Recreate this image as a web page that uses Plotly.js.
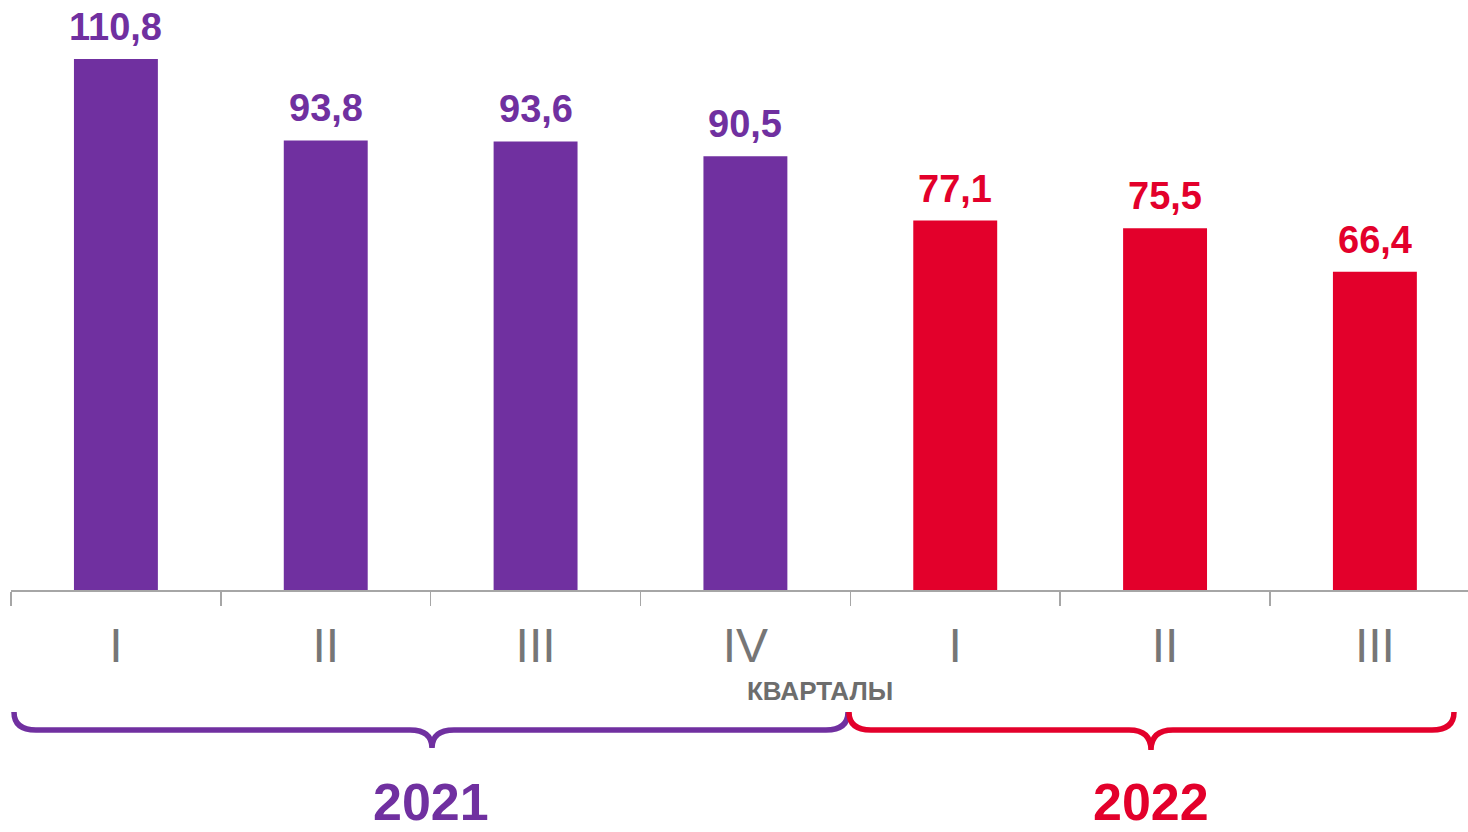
<!DOCTYPE html>
<html>
<head>
<meta charset="utf-8">
<script src="https://cdn.plot.ly/plotly-3.0.1.min.js"></script>
<style>html,body{margin:0;padding:0;background:#fff;}#chart{width:1468px;height:832px;}</style>
</head>
<body>
<div id="chart"></div>
<script>
// ---- data ----
const quarters = ["I", "II", "III", "IV", "I", "II", "III"];
const years = ["2021", "2021", "2021", "2021", "2022", "2022", "2022"];
const values = [110.8, 93.8, 93.6, 90.5, 77.1, 75.5, 66.4];
const yearLabels = ["2021", "2022"];
const axisTitle = "КВАРТАЛЫ";

// ---- styles ----
const yearColors = {"2021": "#7030A0", "2022": "#E3002B"};
const W = 1468, H = 832;
const M = {l: 11, r: 0, t: 0, b: 242};
const plotW = W - M.l - M.r, plotH = H - M.t - M.b;
const FONT = 'Liberation Sans, Arial, sans-serif';

const idx = quarters.map((_, i) => i);
const boundaries = quarters.map((_, i) => i - 0.5);
const barColors = years.map(y => yearColors[y]);

// pixel -> paper conversion for decorative braces
const px = x => (x - M.l) / plotW;
const py = y => (H - M.b - y) / plotH;
function brace(x0, x1, xm, yTop, yLine, yTip, r) {
  const p = (x, y) => px(x) + ',' + py(y);
  return 'M' + p(x0, yTop) +
    ' Q' + p(x0, yLine) + ' ' + p(x0 + r, yLine) +
    ' L' + p(xm - r, yLine) +
    ' Q' + p(xm, yLine) + ' ' + p(xm, yTip) +
    ' Q' + p(xm, yLine) + ' ' + p(xm + r, yLine) +
    ' L' + p(x1 - r, yLine) +
    ' Q' + p(x1, yLine) + ' ' + p(x1, yTop);
}

const trace = {
  type: 'bar',
  x: idx,
  y: values,
  width: 0.4,
  marker: {color: barColors},
  hoverinfo: 'none'
};

const valueLabels = values.map((v, i) => ({
  text: v.toFixed(1).replace('.', ','),
  x: idx[i], y: v, xref: 'x', yref: 'y',
  xanchor: 'center', yanchor: 'bottom', yshift: 9, showarrow: false,
  font: {family: FONT, size: 38, weight: 'bold', color: barColors[i]}
}));

const layout = {
  width: W, height: H,
  margin: M,
  paper_bgcolor: '#fff', plot_bgcolor: '#fff',
  showlegend: false,
  font: {family: FONT},
  xaxis: {
    type: 'linear',
    range: [-0.5, -0.5 + plotW / 209.83],
    tickmode: 'array',
    tickvals: idx,
    ticktext: quarters,
    ticks: '',
    showgrid: false, zeroline: false,
    showline: true, linecolor: '#A6A6A6', linewidth: 2,
    tickfont: {family: FONT, size: 48, color: '#767676'},
    ticklabelstandoff: 12,
    minor: {tickmode: 'array', tickvals: boundaries, ticks: 'outside', ticklen: 14, tickwidth: 1.5, tickcolor: '#A6A6A6', showgrid: false},
    fixedrange: true
  },
  yaxis: {
    visible: false,
    range: [0, plotH / (531 / 110.8)],
    showgrid: false, zeroline: false,
    fixedrange: true
  },
  annotations: valueLabels.concat([
    {text: axisTitle, xref: 'paper', yref: 'paper', x: px(820), y: py(691), xanchor: 'center', yanchor: 'middle', showarrow: false,
     font: {size: 26, weight: 'bold', color: '#6D6D6D'}},
    {text: yearLabels[0], xref: 'paper', yref: 'paper', x: px(431), y: py(832), xanchor: 'center', yanchor: 'bottom', showarrow: false,
     borderpad: 0, font: {size: 52, weight: 'bold', color: yearColors['2021']}},
    {text: yearLabels[1], xref: 'paper', yref: 'paper', x: px(1151), y: py(832), xanchor: 'center', yanchor: 'bottom', showarrow: false,
     borderpad: 0, font: {size: 52, weight: 'bold', color: yearColors['2022']}}
  ]),
  shapes: [
    {type: 'path', xref: 'paper', yref: 'paper', path: brace(14, 848, 432, 712, 730, 748, 22),
     line: {color: yearColors['2021'], width: 5.5}, layer: 'above'},
    {type: 'path', xref: 'paper', yref: 'paper', path: brace(849, 1454, 1151, 712, 730, 750, 22),
     line: {color: yearColors['2022'], width: 5.5}, layer: 'above'}
  ]
};

Plotly.newPlot('chart', [trace], layout, {displayModeBar: false, staticPlot: true});
</script>
</body>
</html>
